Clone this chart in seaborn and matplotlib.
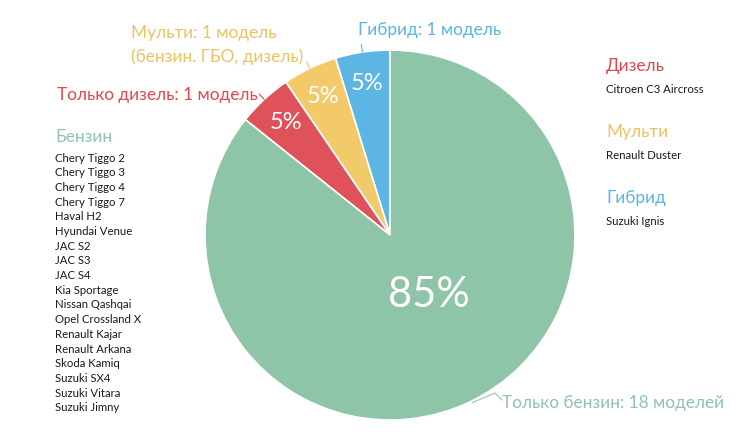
import numpy as np
import matplotlib
matplotlib.use("Agg")
import matplotlib.pyplot as plt
import seaborn as sns

sns.set_theme(style="white")
plt.rcParams['font.family'] = ['Lato', 'DejaVu Sans']

# ---- data ----
categories = ["Гибрид", "Мульти", "Только дизель", "Только бензин"]
counts = [1, 1, 1, 18]
pct_labels = ["5%", "5%", "5%", "85%"]
outer_labels = ["Гибрид: 1 модель", "Мульти: 1 модель\n(бензин. ГБО, дизель)",
                "Только дизель: 1 модель", "Только бензин: 18 моделей"]
colors = ["#5DB5E4", "#F2CA6A", "#E0525A", "#8EC4A8"]
label_colors = ["#5AB4E5", "#EDC261", "#E0474F", "#8EC4A8"]

petrol_models = ["Chery Tiggo 2", "Chery Tiggo 3", "Chery Tiggo 4", "Chery Tiggo 7",
                 "Haval H2", "Hyundai Venue", "JAC S2", "JAC S3", "JAC S4",
                 "Kia Sportage", "Nissan Qashqai", "Opel Crossland X", "Renault Kajar",
                 "Renault Arkana", "Skoda Kamiq", "Suzuki SX4", "Suzuki Vitara", "Suzuki Jimny"]
right_groups = ["Дизель", "Мульти", "Гибрид"]
right_models = ["Citroen C3 Aircross", "Renault Duster", "Suzuki Ignis"]
right_colors = ["#E0474F", "#EDC261", "#5AB4E5"]

W, H = 740, 444
fig = plt.figure(figsize=(W / 100, H / 100), dpi=100)
ax = fig.add_axes([0, 0, 1, 1])
ax.axis("off")

def Y(y):
    return H - y

cx, cy, R = 390, 235, 185
wedges, texts = ax.pie(counts, colors=colors, startangle=90, counterclock=True,
                       center=(cx, Y(cy)), radius=R,
                       wedgeprops=dict(edgecolor="white", linewidth=1.2))
ax.set_xlim(0, W)
ax.set_ylim(0, H)
ax.set_aspect("equal")

# percentage labels
for i, w in enumerate(wedges):
    ang = np.deg2rad((w.theta1 + w.theta2) / 2)
    if counts[i] < 5:
        dist, size, dx = 0.83, 17, 0
    else:
        dist, size, dx = 0.36, 30, 10
    ax.text(cx + dx + dist * R * np.cos(ang), Y(cy) + dist * R * np.sin(ang), pct_labels[i],
            color="white", fontsize=size, ha="center", va="center")

# leader lines
for i, w in enumerate(wedges):
    ang = np.deg2rad((w.theta1 + w.theta2) / 2)
    x0, y0 = cx + R * np.cos(ang), Y(cy) + R * np.sin(ang)
    if counts[i] < 5:
        x1, y1 = cx + 1.04 * R * np.cos(ang), Y(cy) + 1.04 * R * np.sin(ang)
        ax.plot([x0, x1], [y0, y1], color=label_colors[i], lw=0.8)
    else:
        ax.plot([x0 + 2, 495, 502], [y0 - 1, Y(393), Y(400)], color=label_colors[i], lw=0.8)

# outer labels
label_pos = [(358, 30), (131, 45), (57, 95), (502, 403)]
for i, (tx, ty) in enumerate(label_pos):
    ax.text(tx, Y(ty), outer_labels[i], color=label_colors[i], fontsize=12.4,
            ha="left", va="center", linespacing=1.55)

# left list
ax.text(55, Y(137), "Бензин", color="#8EC4A8", fontsize=12.4, ha="left", va="center")
for k, m in enumerate(petrol_models):
    ax.text(55, Y(158 + k * 14.7), m, color="#1a1a1a", fontsize=8.2, ha="left", va="center")

# right list
for k in range(3):
    ax.text(606, Y(66 + k * 66), right_groups[k], color=right_colors[k], fontsize=12.4,
            ha="left", va="center")
    ax.text(606, Y(89 + k * 66), right_models[k], color="#1a1a1a", fontsize=8.2,
            ha="left", va="center")

fig.savefig("out.png", dpi=100)
